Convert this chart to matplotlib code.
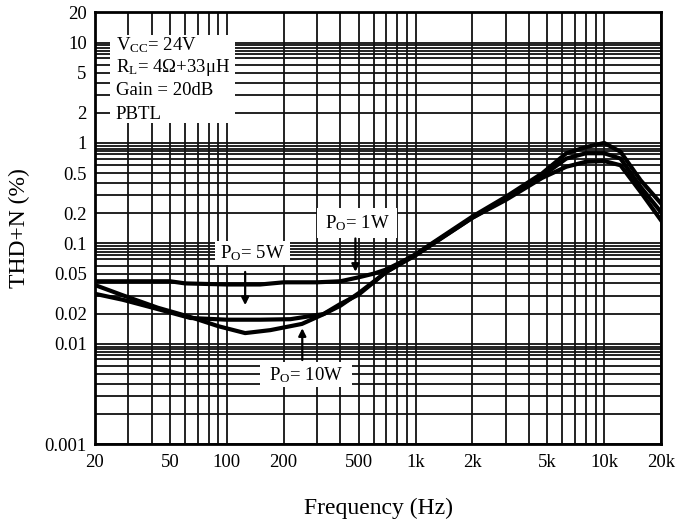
import matplotlib
matplotlib.use("Agg")
import matplotlib.pyplot as plt
from matplotlib.patches import Rectangle
from matplotlib.ticker import FixedLocator, NullFormatter

plt.rcParams['font.family'] = ['Liberation Serif', 'DejaVu Serif']
plt.rcParams['mathtext.fontset'] = 'custom'
plt.rcParams['mathtext.rm'] = 'Liberation Serif'
plt.rcParams['mathtext.it'] = 'Liberation Serif'

# ---- data ----
freq_1w = [20, 30, 40, 50, 60, 100, 150, 200, 300, 400, 500, 600, 700, 1000,
           2000, 3000, 4700, 6300, 8000, 10000, 12200, 15600, 20000]
thd_1w = [0.042, 0.042, 0.042, 0.042, 0.040, 0.039, 0.039, 0.041, 0.041, 0.042,
          0.046, 0.050, 0.055, 0.077, 0.18, 0.27, 0.45, 0.58, 0.65, 0.66,
          0.60, 0.325, 0.17]

freq_5w = [20, 28, 43, 64, 100, 150, 217, 325, 400, 500, 700, 1000,
           2000, 3000, 4700, 6300, 8000, 10000, 12200, 15600, 20000]
thd_5w = [0.0315, 0.0275, 0.0222, 0.0181, 0.0174, 0.0174, 0.0176, 0.0198, 0.025,
          0.031, 0.052, 0.076, 0.18, 0.28, 0.47, 0.70, 0.79, 0.79, 0.70, 0.365, 0.205]

freq_10w = [20, 28, 43, 64, 90, 125, 170, 250, 330, 400, 500, 700, 1000,
            2000, 3000, 4700, 6300, 8000, 10000, 12200, 15600, 20000]
thd_10w = [0.0385, 0.0305, 0.0229, 0.0185, 0.0150, 0.0128, 0.0137, 0.0158, 0.020,
           0.024, 0.032, 0.052, 0.078, 0.185, 0.29, 0.50, 0.79, 0.91, 1.0, 0.818,
           0.425, 0.25]

x_ticks = [20, 50, 100, 200, 500, 1000, 2000, 5000, 10000, 20000]
x_labels = ['20', '50', '100', '200', '500', '1k', '2k', '5k', '10k', '20k']
y_ticks = [0.001, 0.01, 0.02, 0.05, 0.1, 0.2, 0.5, 1, 2, 5, 10, 20]
y_labels = ['0.001', '0.01', '0.02', '0.05', '0.1', '0.2', '0.5', '1', '2', '5', '10', '20']
y_grid_mult = [2, 3, 4, 5, 6, 7, 7.75, 8.25, 8.8, 9.4]

conditions = ['V$_{\\mathrm{CC}}$= 24V', 'R$_{\\mathrm{L}}$= 4Ω+33μH', 'Gain = 20dB', 'PBTL']

fig = plt.figure(figsize=(6.82, 5.26), dpi=100)
ax = fig.add_axes([95/682, 1-444.3/526, 566/682, 432/526])

ax.set_xscale('log')
ax.set_yscale('log')
ax.set_xlim(20, 20000)
ax.set_ylim(0.001, 20)

ax.xaxis.set_major_locator(FixedLocator(x_ticks))
ax.set_xticklabels(x_labels)
xminor = []
for dec in [10, 100, 1000, 10000]:
    for m in range(1, 10):
        v = m * dec
        if 20 <= v <= 20000 and v not in x_ticks:
            xminor.append(v)
ax.xaxis.set_minor_locator(FixedLocator(xminor))
ax.xaxis.set_minor_formatter(NullFormatter())

ax.yaxis.set_major_locator(FixedLocator(y_ticks))
ax.set_yticklabels(y_labels)
yminor = []
for dec in [0.001, 0.01, 0.1, 1]:
    for m in y_grid_mult:
        v = round(m * dec, 8)
        if not any(abs(v - t) / t < 1e-6 for t in y_ticks):
            yminor.append(v)
ax.yaxis.set_minor_locator(FixedLocator(yminor))
ax.yaxis.set_minor_formatter(NullFormatter())

ax.tick_params(which='both', length=0, labelsize=13.5)
ax.tick_params(axis='x', pad=7)
ax.tick_params(axis='y', pad=6)
ax.set_axisbelow(True)
ax.grid(True, which='both', color='#111111', linewidth=1.3)

for s in ax.spines.values():
    s.set_linewidth(2)
    s.set_color('black')

lw = 3.0
ax.plot(freq_1w, thd_1w, color='black', lw=lw, zorder=4, solid_joinstyle='round')
ax.plot(freq_5w, thd_5w, color='black', lw=lw, zorder=4, solid_joinstyle='round')
ax.plot(freq_10w, thd_10w, color='black', lw=lw, zorder=4, solid_joinstyle='round')

ax.set_xlabel('Frequency (Hz)', fontsize=17, labelpad=19)
ax.set_ylabel('THD+N (%)', fontsize=17, labelpad=10)

def box(x0, y0, x1, y1):
    ax.add_patch(Rectangle((x0, y0), x1 - x0, y1 - y0, transform=ax.transAxes,
                           facecolor='white', edgecolor='none', zorder=2))

# condition box
box(0.0265, 0.7438, 0.2473, 0.9475)
for txt, yy in zip(conditions, [0.9243, 0.8711, 0.8201, 0.7623]):
    ax.text(0.037, yy, txt, transform=ax.transAxes, fontsize=13.5,
            va='center', ha='left', zorder=5)

# power labels
box(0.212, 0.415, 0.3445, 0.4706)
ax.text(0.2774, 0.4428, 'P$_{\\mathrm{O}}$= 5W', transform=ax.transAxes,
        fontsize=13.5, ha='center', va='center', zorder=5)
box(0.3922, 0.4775, 0.5336, 0.547)
ax.text(0.4629, 0.512, 'P$_{\\mathrm{O}}$= 1W', transform=ax.transAxes,
        fontsize=13.5, ha='center', va='center', zorder=5)
box(0.2915, 0.1326, 0.4541, 0.1910)
ax.text(0.3728, 0.1604, 'P$_{\\mathrm{O}}$= 10W', transform=ax.transAxes,
        fontsize=13.5, ha='center', va='center', zorder=5)

arrow = dict(arrowstyle='-|>', color='black', lw=1.6, mutation_scale=11,
             shrinkA=0, shrinkB=0)
ax.annotate('', xy=(125, 0.0243), xytext=(125, 0.052), arrowprops=arrow, zorder=5)
ax.annotate('', xy=(480, 0.0522), xytext=(480, 0.112), arrowprops=arrow, zorder=5)
ax.annotate('', xy=(251, 0.0143), xytext=(251, 0.0069), arrowprops=arrow, zorder=5)

fig.savefig('out.png', dpi=100, facecolor='white')
